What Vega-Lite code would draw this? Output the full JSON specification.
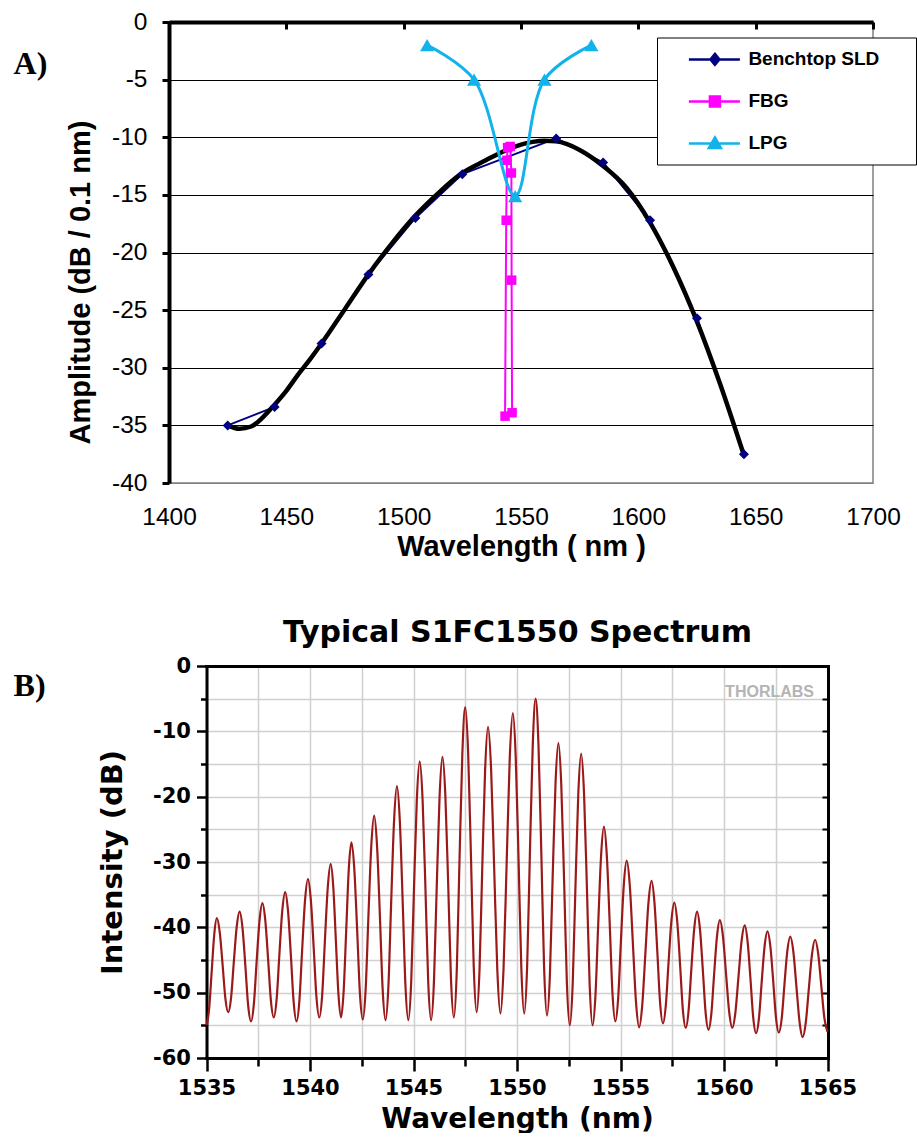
{
  "$schema": "https://vega.github.io/schema/vega-lite/v6.json",
  "padding": {"left": 12, "top": 8, "right": 0, "bottom": 0},
  "background": "white",
  "config": {"view": {"stroke": null}, "font": "Liberation Sans"},
  "columns": 1,
  "spacing": 54,
  "resolve": {"scale": {"color": "independent", "x": "independent", "y": "independent"}, "legend": {"color": "independent"}},
  "datasets": {
    "sld": [
      {"w": 1425, "a": -35.0, "series": "Benchtop SLD"},
      {"w": 1445, "a": -33.4, "series": "Benchtop SLD"},
      {"w": 1465, "a": -27.9, "series": "Benchtop SLD"},
      {"w": 1485, "a": -21.9, "series": "Benchtop SLD"},
      {"w": 1505, "a": -17.0, "series": "Benchtop SLD"},
      {"w": 1525, "a": -13.2, "series": "Benchtop SLD"},
      {"w": 1565, "a": -10.1, "series": "Benchtop SLD"},
      {"w": 1585, "a": -12.2, "series": "Benchtop SLD"},
      {"w": 1605, "a": -17.2, "series": "Benchtop SLD"},
      {"w": 1625, "a": -25.7, "series": "Benchtop SLD"},
      {"w": 1645, "a": -37.5, "series": "Benchtop SLD"}
    ],
    "trend": [
      {"w": 1425, "a": -35.0}, {"w": 1430, "a": -35.3}, {"w": 1435, "a": -35.1},
      {"w": 1440, "a": -34.3}, {"w": 1445, "a": -33.2}, {"w": 1450, "a": -32.0},
      {"w": 1455, "a": -30.6}, {"w": 1460, "a": -29.3}, {"w": 1465, "a": -27.9},
      {"w": 1475, "a": -24.9}, {"w": 1485, "a": -21.9}, {"w": 1495, "a": -19.2},
      {"w": 1505, "a": -16.8}, {"w": 1515, "a": -14.8}, {"w": 1525, "a": -13.1},
      {"w": 1535, "a": -12.0}, {"w": 1545, "a": -11.0}, {"w": 1555, "a": -10.4},
      {"w": 1560, "a": -10.3}, {"w": 1565, "a": -10.35}, {"w": 1575, "a": -11.1},
      {"w": 1585, "a": -12.5}, {"w": 1595, "a": -14.4}, {"w": 1605, "a": -17.4},
      {"w": 1615, "a": -21.3}, {"w": 1625, "a": -26.0}, {"w": 1635, "a": -31.5},
      {"w": 1645, "a": -37.6}
    ],
    "fbg": [
      {"w": 1543.2, "a": -34.2, "series": "FBG"},
      {"w": 1543.7, "a": -17.2, "series": "FBG"},
      {"w": 1544.0, "a": -12.0, "series": "FBG"},
      {"w": 1544.3, "a": -10.9, "series": "FBG"},
      {"w": 1545.4, "a": -10.8, "series": "FBG"},
      {"w": 1545.9, "a": -13.1, "series": "FBG"},
      {"w": 1546.0, "a": -22.4, "series": "FBG"},
      {"w": 1546.2, "a": -33.9, "series": "FBG"}
    ],
    "lpg": [
      {"w": 1510, "a": -2.0, "series": "LPG"},
      {"w": 1530, "a": -5.0, "series": "LPG"},
      {"w": 1547.5, "a": -15.1, "series": "LPG"},
      {"w": 1560, "a": -5.0, "series": "LPG"},
      {"w": 1580, "a": -2.0, "series": "LPG"}
    ],
    "wmark": [{"w": 1562.2, "db": -4.0, "t": "THORLABS"}],
    "spec": [
      {"w": 1535.0, "db": -55.0},
      {"w": 1535.125, "db": -52.54}, {"w": 1535.25, "db": -46.8}, {"w": 1535.375, "db": -41.06}, {"w": 1535.5, "db": -38.6},
      {"w": 1535.64, "db": -40.76}, {"w": 1535.78, "db": -45.8}, {"w": 1535.91, "db": -50.84}, {"w": 1536.05, "db": -53.0},
      {"w": 1536.19, "db": -50.69}, {"w": 1536.32, "db": -45.3}, {"w": 1536.46, "db": -39.91}, {"w": 1536.6, "db": -37.6},
      {"w": 1536.74, "db": -40.12}, {"w": 1536.88, "db": -46.0}, {"w": 1537.01, "db": -51.88}, {"w": 1537.15, "db": -54.4},
      {"w": 1537.29, "db": -51.69}, {"w": 1537.42, "db": -45.35}, {"w": 1537.56, "db": -39.02}, {"w": 1537.7, "db": -36.3},
      {"w": 1537.84, "db": -38.93}, {"w": 1537.98, "db": -45.05}, {"w": 1538.11, "db": -51.18}, {"w": 1538.25, "db": -53.8},
      {"w": 1538.39, "db": -50.92}, {"w": 1538.52, "db": -44.2}, {"w": 1538.66, "db": -37.48}, {"w": 1538.8, "db": -34.6},
      {"w": 1538.94, "db": -37.57}, {"w": 1539.08, "db": -44.5}, {"w": 1539.21, "db": -51.43}, {"w": 1539.35, "db": -54.4},
      {"w": 1539.49, "db": -51.13}, {"w": 1539.62, "db": -43.5}, {"w": 1539.76, "db": -35.87}, {"w": 1539.9, "db": -32.6},
      {"w": 1540.04, "db": -35.78}, {"w": 1540.18, "db": -43.2}, {"w": 1540.31, "db": -50.62}, {"w": 1540.45, "db": -53.8},
      {"w": 1540.59, "db": -50.28}, {"w": 1540.72, "db": -42.05}, {"w": 1540.86, "db": -33.83}, {"w": 1541.0, "db": -30.3},
      {"w": 1541.125, "db": -33.83}, {"w": 1541.25, "db": -42.05}, {"w": 1541.375, "db": -50.28}, {"w": 1541.5, "db": -53.8},
      {"w": 1541.625, "db": -49.78}, {"w": 1541.75, "db": -40.4}, {"w": 1541.875, "db": -31.02}, {"w": 1542.0, "db": -27.0},
      {"w": 1542.14, "db": -31.07}, {"w": 1542.28, "db": -40.55}, {"w": 1542.41, "db": -50.04}, {"w": 1542.55, "db": -54.1},
      {"w": 1542.69, "db": -49.42}, {"w": 1542.82, "db": -38.5}, {"w": 1542.96, "db": -27.58}, {"w": 1543.1, "db": -22.9},
      {"w": 1543.24, "db": -27.6}, {"w": 1543.38, "db": -38.55}, {"w": 1543.51, "db": -49.5}, {"w": 1543.65, "db": -54.2},
      {"w": 1543.79, "db": -48.83}, {"w": 1543.92, "db": -36.3}, {"w": 1544.06, "db": -23.77}, {"w": 1544.2, "db": -18.4},
      {"w": 1544.34, "db": -23.77}, {"w": 1544.48, "db": -36.3}, {"w": 1544.61, "db": -48.83}, {"w": 1544.75, "db": -54.2},
      {"w": 1544.89, "db": -48.26}, {"w": 1545.02, "db": -34.4}, {"w": 1545.16, "db": -20.54}, {"w": 1545.3, "db": -14.6},
      {"w": 1545.44, "db": -20.54}, {"w": 1545.58, "db": -34.4}, {"w": 1545.71, "db": -48.26}, {"w": 1545.85, "db": -54.2},
      {"w": 1545.99, "db": -48.16}, {"w": 1546.12, "db": -34.05}, {"w": 1546.26, "db": -19.95}, {"w": 1546.4, "db": -13.9},
      {"w": 1546.54, "db": -19.89}, {"w": 1546.68, "db": -33.85}, {"w": 1546.81, "db": -47.82}, {"w": 1546.95, "db": -53.8},
      {"w": 1547.09, "db": -46.68}, {"w": 1547.22, "db": -30.05}, {"w": 1547.36, "db": -13.43}, {"w": 1547.5, "db": -6.3},
      {"w": 1547.64, "db": -13.3}, {"w": 1547.78, "db": -29.65}, {"w": 1547.91, "db": -46.0}, {"w": 1548.05, "db": -53.0},
      {"w": 1548.19, "db": -46.45}, {"w": 1548.32, "db": -31.15}, {"w": 1548.46, "db": -15.86}, {"w": 1548.6, "db": -9.3},
      {"w": 1548.75, "db": -15.89}, {"w": 1548.9, "db": -31.25}, {"w": 1549.05, "db": -46.62}, {"w": 1549.2, "db": -53.2},
      {"w": 1549.35, "db": -46.3}, {"w": 1549.5, "db": -30.2}, {"w": 1549.65, "db": -14.1}, {"w": 1549.8, "db": -7.2},
      {"w": 1549.94, "db": -14.1}, {"w": 1550.08, "db": -30.2}, {"w": 1550.21, "db": -46.3}, {"w": 1550.35, "db": -53.2},
      {"w": 1550.49, "db": -45.97}, {"w": 1550.62, "db": -29.1}, {"w": 1550.76, "db": -12.23}, {"w": 1550.9, "db": -5.0},
      {"w": 1551.04, "db": -12.28}, {"w": 1551.18, "db": -29.25}, {"w": 1551.31, "db": -46.23}, {"w": 1551.45, "db": -53.5},
      {"w": 1551.59, "db": -47.25}, {"w": 1551.72, "db": -32.65}, {"w": 1551.86, "db": -18.06}, {"w": 1552.0, "db": -11.8},
      {"w": 1552.14, "db": -18.28}, {"w": 1552.28, "db": -33.4}, {"w": 1552.41, "db": -48.52}, {"w": 1552.55, "db": -55.0},
      {"w": 1552.69, "db": -48.76}, {"w": 1552.82, "db": -34.2}, {"w": 1552.96, "db": -19.64}, {"w": 1553.1, "db": -13.4},
      {"w": 1553.24, "db": -19.64}, {"w": 1553.38, "db": -34.2}, {"w": 1553.51, "db": -48.76}, {"w": 1553.65, "db": -55.0},
      {"w": 1553.79, "db": -50.44}, {"w": 1553.92, "db": -39.8}, {"w": 1554.06, "db": -29.16}, {"w": 1554.2, "db": -24.6},
      {"w": 1554.34, "db": -29.07}, {"w": 1554.48, "db": -39.5}, {"w": 1554.61, "db": -49.93}, {"w": 1554.75, "db": -54.4},
      {"w": 1554.89, "db": -50.71}, {"w": 1555.02, "db": -42.1}, {"w": 1555.16, "db": -33.49}, {"w": 1555.3, "db": -29.8},
      {"w": 1555.45, "db": -33.63}, {"w": 1555.6, "db": -42.55}, {"w": 1555.75, "db": -51.48}, {"w": 1555.9, "db": -55.3},
      {"w": 1556.05, "db": -51.94}, {"w": 1556.2, "db": -44.1}, {"w": 1556.35, "db": -36.26}, {"w": 1556.5, "db": -32.9},
      {"w": 1556.64, "db": -36.17}, {"w": 1556.78, "db": -43.8}, {"w": 1556.91, "db": -51.43}, {"w": 1557.05, "db": -54.7},
      {"w": 1557.19, "db": -51.93}, {"w": 1557.32, "db": -45.45}, {"w": 1557.46, "db": -38.98}, {"w": 1557.6, "db": -36.2},
      {"w": 1557.74, "db": -39.08}, {"w": 1557.88, "db": -45.8}, {"w": 1558.01, "db": -52.52}, {"w": 1558.15, "db": -55.4},
      {"w": 1558.29, "db": -52.73}, {"w": 1558.42, "db": -46.5}, {"w": 1558.56, "db": -40.27}, {"w": 1558.7, "db": -37.6},
      {"w": 1558.84, "db": -40.32}, {"w": 1558.98, "db": -46.65}, {"w": 1559.11, "db": -52.99}, {"w": 1559.25, "db": -55.7},
      {"w": 1559.39, "db": -53.18}, {"w": 1559.52, "db": -47.3}, {"w": 1559.66, "db": -41.42}, {"w": 1559.8, "db": -38.9},
      {"w": 1559.95, "db": -41.38}, {"w": 1560.1, "db": -47.15}, {"w": 1560.25, "db": -52.93}, {"w": 1560.4, "db": -55.4},
      {"w": 1560.55, "db": -53.05}, {"w": 1560.7, "db": -47.55}, {"w": 1560.85, "db": -42.06}, {"w": 1561.0, "db": -39.7},
      {"w": 1561.14, "db": -42.18}, {"w": 1561.28, "db": -47.95}, {"w": 1561.41, "db": -53.73}, {"w": 1561.55, "db": -56.2},
      {"w": 1561.69, "db": -53.86}, {"w": 1561.82, "db": -48.4}, {"w": 1561.96, "db": -42.94}, {"w": 1562.1, "db": -40.6},
      {"w": 1562.24, "db": -42.93}, {"w": 1562.38, "db": -48.35}, {"w": 1562.51, "db": -53.78}, {"w": 1562.65, "db": -56.1},
      {"w": 1562.79, "db": -53.9}, {"w": 1562.92, "db": -48.75}, {"w": 1563.06, "db": -43.61}, {"w": 1563.2, "db": -41.4},
      {"w": 1563.35, "db": -43.71}, {"w": 1563.5, "db": -49.1}, {"w": 1563.65, "db": -54.49}, {"w": 1563.8, "db": -56.8},
      {"w": 1563.95, "db": -54.57}, {"w": 1564.1, "db": -49.35}, {"w": 1564.25, "db": -44.14}, {"w": 1564.4, "db": -41.9},
      {"w": 1564.55, "db": -44.02}, {"w": 1564.7, "db": -48.95}, {"w": 1564.85, "db": -53.89}, {"w": 1565.0, "db": -56.0}
    ]
  },
  "concat": [
    {
      "width": 704,
      "height": 461,
      "view": {"stroke": "#808080", "strokeWidth": 1.5},
      "title": {"text": "A)", "orient": "left", "angle": 0, "anchor": "end", "frame": "group", "font": "Liberation Serif", "fontSize": 32, "fontWeight": "bold", "color": "black", "offset": -14.5, "dy": 27},
      "resolve": {"axis": {"x": "independent", "y": "independent"}},
      "layer": [
        {
          "data": {"name": "sld"},
          "mark": {"type": "line", "strokeWidth": 2},
          "encoding": {
            "x": {"field": "w", "type": "quantitative",
              "scale": {"domain": [1400, 1700], "nice": false, "zero": false},
              "axis": {"orient": "top", "labels": false, "title": null, "grid": false,
                "values": [1400, 1450, 1500, 1550, 1600, 1650, 1700],
                "domainColor": "black", "domainWidth": 4, "tickColor": "black", "tickWidth": 3, "tickSize": -7}},
            "y": {"field": "a", "type": "quantitative",
              "scale": {"domain": [-40, 0], "nice": false, "zero": false},
              "axis": {"orient": "left", "values": [-40, -35, -30, -25, -20, -15, -10, -5, 0], "labelFlush": false,
                "labelExpr": "(datum.value < 0 ? '-' : '') + abs(datum.value)",
                "domainColor": "black", "domainWidth": 4, "tickColor": "black", "tickWidth": 3, "tickSize": 7,
                "labelFont": "Liberation Sans", "labelFontSize": 24.5, "labelColor": "black", "labelPadding": 15,
                "grid": true, "gridColor": {"condition": {"test": "datum.value === -40", "value": "#808080"}, "value": "black"}, "gridWidth": 1.2,
                "title": "Amplitude (dB / 0.1 nm)", "titleFont": "Liberation Sans", "titleFontSize": 29, "titleFontWeight": "bold", "titleColor": "black", "titlePadding": 16, "titleY": 260}},
            "color": {"field": "series", "type": "nominal",
              "scale": {"domain": ["Benchtop SLD", "FBG", "LPG"], "range": ["#000080", "#FF00FF", "#12B2EA"]},
              "legend": {"orient": "none", "legendX": 488, "legendY": 15.5, "direction": "vertical",
                "title": "\u00a0", "titleOrient": "right", "titleFontSize": 1, "titlePadding": 26,
                "fillColor": "white", "strokeColor": "black", "padding": 10.4, "rowPadding": 20,
                "symbolSize": 400, "symbolStrokeWidth": 2.5, "labelFont": "Liberation Sans", "labelFontSize": 19, "labelFontWeight": "bold", "labelColor": "black",
                "labelOffset": 58, "labelLimit": 400,
                "encode": {"symbols": {"update": {
                  "shape": {"signal": "datum.value === 'Benchtop SLD' ? 'M1.0,0H6.1M3.6,-0.55L4.05,0L3.6,0.55L3.15,0Z' : datum.value === 'FBG' ? 'M1.0,0H6.1M3.1,-0.5H4.1V0.5H3.1Z' : 'M1.0,0H6.1M3.6,-0.6L4.2,0.45H3.0Z'"},
                  "fill": {"signal": "datum.value === 'Benchtop SLD' ? '#000080' : datum.value === 'FBG' ? '#FF00FF' : '#12B2EA'"},
                  "stroke": {"signal": "datum.value === 'Benchtop SLD' ? '#000080' : datum.value === 'FBG' ? '#FF00FF' : '#12B2EA'"},
                  "opacity": {"value": 1}}}}}}
          }
        },
        {
          "data": {"name": "trend"},
          "mark": {"type": "line", "color": "black", "strokeWidth": 4.5, "interpolate": "monotone", "strokeCap": "round"},
          "encoding": {
            "x": {"field": "w", "type": "quantitative",
              "axis": {"orient": "bottom", "domain": false, "ticks": false, "tickSize": 0, "grid": false, "labelFlush": false,
                "values": [1400, 1450, 1500, 1550, 1600, 1650, 1700], "format": "d",
                "labelFont": "Liberation Sans", "labelFontSize": 24.5, "labelColor": "black", "labelPadding": 22,
                "title": "Wavelength ( nm )", "titleFont": "Liberation Sans", "titleFontSize": 29, "titleFontWeight": "bold", "titleColor": "black", "titlePadding": 4}},
            "y": {"field": "a", "type": "quantitative", "axis": null}
          }
        },
        {
          "data": {"name": "sld"},
          "mark": {"type": "point", "shape": "diamond", "filled": true, "size": 100, "opacity": 1},
          "encoding": {
            "x": {"field": "w", "type": "quantitative", "axis": null},
            "y": {"field": "a", "type": "quantitative", "axis": null},
            "color": {"field": "series", "type": "nominal"}
          }
        },
        {
          "data": {"name": "fbg"},
          "mark": {"type": "line", "strokeWidth": 2},
          "encoding": {
            "x": {"field": "w", "type": "quantitative", "axis": null},
            "y": {"field": "a", "type": "quantitative", "axis": null},
            "color": {"field": "series", "type": "nominal"}
          }
        },
        {
          "data": {"name": "fbg"},
          "mark": {"type": "point", "shape": "square", "filled": true, "size": 90, "opacity": 1},
          "encoding": {
            "x": {"field": "w", "type": "quantitative", "axis": null},
            "y": {"field": "a", "type": "quantitative", "axis": null},
            "color": {"field": "series", "type": "nominal"}
          }
        },
        {
          "data": {"name": "lpg"},
          "mark": {"type": "line", "strokeWidth": 3, "interpolate": "catmull-rom"},
          "encoding": {
            "x": {"field": "w", "type": "quantitative", "axis": null},
            "y": {"field": "a", "type": "quantitative", "axis": null},
            "color": {"field": "series", "type": "nominal"}
          }
        },
        {
          "data": {"name": "lpg"},
          "mark": {"type": "point", "shape": "triangle-up", "filled": true, "size": 200, "opacity": 1},
          "encoding": {
            "x": {"field": "w", "type": "quantitative", "axis": null},
            "y": {"field": "a", "type": "quantitative", "axis": null},
            "color": {"field": "series", "type": "nominal"}
          }
        }
      ]
    },
    {
      "width": 659,
      "height": 392,
      "title": {"text": "B)", "orient": "left", "angle": 0, "anchor": "end", "frame": "group", "font": "Liberation Serif", "fontSize": 32, "fontWeight": "bold", "color": "black", "offset": 21, "dy": 5},
      "resolve": {"axis": {"x": "independent", "y": "independent"}},
      "layer": [
        {
          "data": {"name": "spec"},
          "mark": {"type": "line", "color": "#9a1a1a", "strokeWidth": 2.2, "interpolate": "monotone"},
          "encoding": {
            "x": {"field": "w", "type": "quantitative",
              "scale": {"domain": [1535, 1565], "nice": false, "zero": false, "range": [37.5, 658.5]},
              "axis": {"orient": "bottom", "values": [1535, 1537.5, 1540, 1542.5, 1545, 1547.5, 1550, 1552.5, 1555, 1557.5, 1560, 1562.5, 1565],
                "labelExpr": "datum.value % 5 === 0 ? '' + datum.value : ''", "labelFlush": false,
                "domain": true, "domainColor": "black", "domainWidth": 3, "domainCap": "square",
                "tickColor": "black", "tickWidth": 2.5,
                "tickSize": {"condition": {"test": "datum.value % 5 === 0", "value": 13}, "value": 8},
                "grid": true, "gridColor": "#d0d0d0", "gridWidth": 1.5,
                "labelFont": "DejaVu Sans", "labelFontSize": 21, "labelFontWeight": "bold", "labelColor": "black", "labelPadding": 6,
                "title": "Wavelength (nm)", "titleFont": "DejaVu Sans", "titleFontSize": 28, "titleFontWeight": "bold", "titleColor": "black", "titlePadding": 7}},
            "y": {"field": "db", "type": "quantitative",
              "scale": {"domain": [-60, 0], "nice": false, "zero": false},
              "axis": {"orient": "left", "offset": -37.5, "values": [-60, -55, -50, -45, -40, -35, -30, -25, -20, -15, -10, -5, 0], "labelFlush": false,
                "labelExpr": "datum.value % 10 === 0 ? (datum.value < 0 ? '-' : '') + abs(datum.value) : ''",
                "domain": true, "domainColor": "black", "domainWidth": 3, "domainCap": "square",
                "tickColor": "black", "tickWidth": 2.5,
                "tickSize": {"condition": {"test": "datum.value % 10 === 0", "value": 10}, "value": 6},
                "grid": true, "gridColor": "#d0d0d0", "gridWidth": 1.5,
                "labelFont": "DejaVu Sans", "labelFontSize": 21, "labelFontWeight": "bold", "labelColor": "black", "labelPadding": 6,
                "title": "Intensity (dB)", "titleFont": "DejaVu Sans", "titleFontSize": 29, "titleFontWeight": "bold", "titleColor": "black", "titlePadding": 25}}
          }
        },
        {
          "data": {"name": "wmark"},
          "mark": {"type": "text", "font": "Liberation Sans", "fontSize": 16, "fontWeight": "bold", "color": "#b4b4b4"},
          "encoding": {
            "x": {"field": "w", "type": "quantitative",
              "axis": {"orient": "top", "labels": false, "ticks": false, "tickSize": 0, "grid": false,
                "domain": true, "domainColor": "black", "domainWidth": 3, "domainCap": "square",
                "title": "Typical S1FC1550 Spectrum", "titleFont": "DejaVu Sans", "titleFontSize": 30, "titleFontWeight": "bold", "titleColor": "black", "titlePadding": 19}},
            "y": {"field": "db", "type": "quantitative",
              "axis": {"orient": "right", "labels": false, "grid": false, "title": null,
                "domain": true, "domainColor": "black", "domainWidth": 3, "domainCap": "square",
                "values": [-55, -50, -45, -40, -35, -30, -25, -20, -15, -10, -5],
                "tickColor": "black", "tickWidth": 2, "tickSize": -6}},
            "text": {"field": "t"}
          }
        }
      ]
    }
  ]
}
